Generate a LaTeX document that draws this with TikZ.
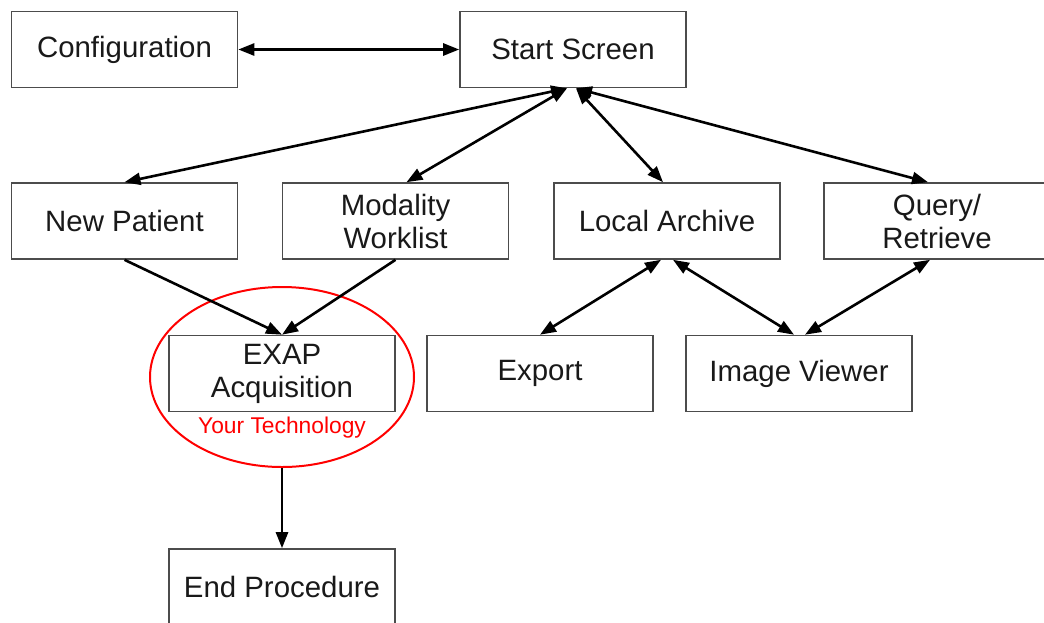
\documentclass[tikz,border=0pt]{standalone}
\usepackage{fontspec}
\setmainfont{Liberation Sans}
\usetikzlibrary{arrows.meta,shapes.geometric,positioning}

\begin{document}
\begin{tikzpicture}[x=0.5pt,y=-0.5pt,
    box/.style={draw=black!70, line width=0.8pt, minimum width=113pt, minimum height=38pt,
        inner sep=0pt, align=center, font=\fontsize{14.7}{16.5}\selectfont, text=black!90},
    link/.style={line width=1.3pt, -{Triangle[length=8pt,width=6pt]}},
    both/.style={link, {Triangle[length=8pt,width=6pt]}-{Triangle[length=8pt,width=6pt]}}]
    \clip (0,0) rectangle (1044,622);

    % Top row
    \node[box] (config) at (124.5,49.5) {Configuration};
    \node[box] (start) at (573,49.5) {Start Screen};

    % Second row
    \node[box] (newpat) at (124.5,221) {New Patient};
    \node[box] (worklist) at (395.5,221) {Modality\\Worklist};
    \node[box] (archive) at (667,221) {Local Archive};
    \node[box] (query) at (937,221) {Query/\\Retrieve};

    % Third row
    \node[box] (exap) at (282,373.5) {EXAP\\Acquisition};
    \node[box] (export) at (540,373.5) {Export};
    \node[box] (viewer) at (799,373.5) {Image Viewer};

    % Bottom
    \node[box] (endproc) at (282,587) {End Procedure};

    % Highlight
    \node[ellipse, draw=red, line width=1pt, minimum width=132pt, minimum height=90pt, inner sep=0pt] (tech) at (282,377) {};
    \node[text=red, font=\fontsize{11.4}{13}\selectfont] (yourtech) at (282,428) {Your Technology};

    % Links from start screen
    \draw[both] (config) -- (start);
    \draw[both] ([xshift=-3pt]start.south) -- (newpat.north);
    \draw[both] ([xshift=-3pt]start.south) -- ([xshift=5.5pt]worklist.north);
    \draw[both] ([xshift=1.5pt]start.south) -- ([xshift=-2pt]archive.north);
    \draw[both] ([xshift=1.5pt]start.south) -- ([xshift=-4.5pt]query.north);

    % Acquisition path
    \draw[link] (newpat.south) -- (exap.north);
    \draw[link] (worklist.south) -- (exap.north);
    \draw[link] (tech.south) -- (endproc.north);

    % Archive links
    \draw[both] ([xshift=-3pt]archive.south) -- (export.north);
    \draw[both] ([xshift=3pt]archive.south) -- ([xshift=-2.5pt]viewer.north);
    \draw[both] ([xshift=-3.5pt]query.south) -- ([xshift=3pt]viewer.north);
\end{tikzpicture}
\end{document}
